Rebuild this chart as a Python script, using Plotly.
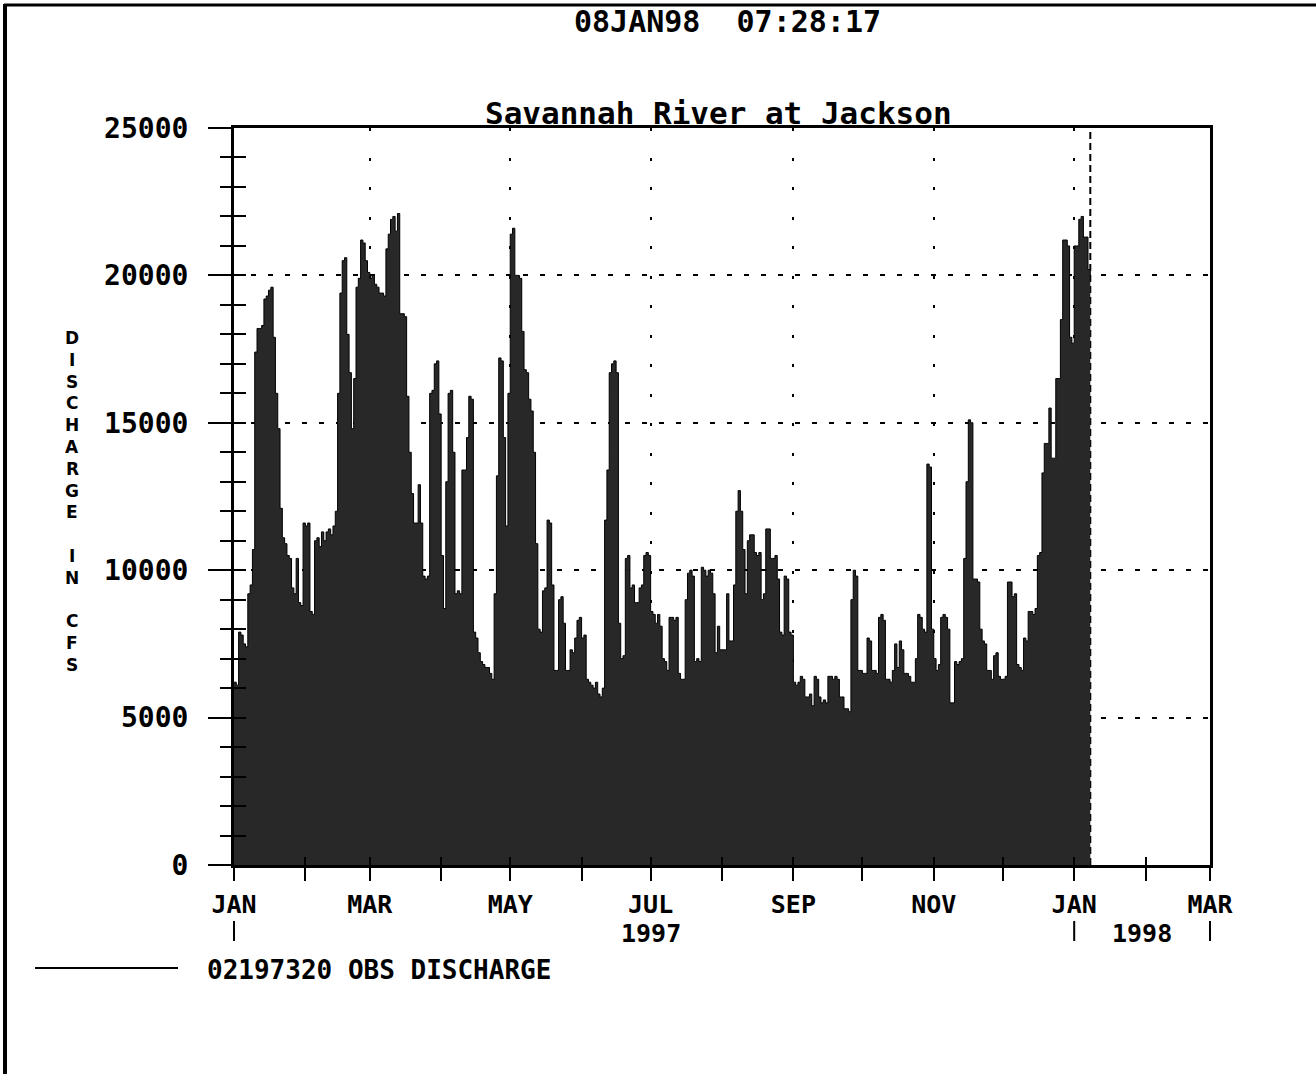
import pandas as pd
import plotly.graph_objects as go

# ---------------- data ----------------
start_date = "1997-01-01"
discharge_cfs = [
    6200, 6100, 7900, 7800, 7500, 7400, 9200, 9500, 10700, 17400,
    18200, 18200, 18300, 19200, 19300, 19500, 19600, 17900, 16000, 14800,
    12100, 11100, 10900, 10500, 10400, 9400, 9200, 10400, 8900, 8800,
    11600, 11500, 11600, 8600, 8500, 11000, 11100, 10800, 11300, 11000,
    11300, 11400, 11200, 11500, 12000, 16000, 19400, 20500, 20600, 18000,
    16700, 14800, 16500, 19600, 19900, 21200, 21100, 20500, 20100, 19900,
    20000, 19700, 19600, 19400, 19400, 19300, 20900, 21400, 21900, 22000,
    21500, 22100, 18700, 18700, 18600, 15900, 14000, 12600, 11600, 11600,
    12900, 11600, 9800, 9700, 9800, 16000, 16100, 17000, 17100, 15300,
    10500, 8700, 13000, 16000, 16100, 14000, 9200, 9300, 9200, 13400,
    13400, 14500, 15900, 15800, 7900, 7700, 7200, 6900, 6800, 6700,
    6700, 6500, 6300, 9200, 13200, 17200, 17100, 14500, 11500, 16000,
    21400, 21600, 20000, 20000, 19900, 18100, 16800, 16700, 15800, 15400,
    14000, 10900, 8000, 7900, 9300, 9400, 11700, 11600, 9500, 6600,
    6600, 9000, 9100, 8200, 6600, 6600, 7300, 7200, 7700, 8300,
    8400, 7700, 7800, 6300, 6200, 6100, 6000, 6200, 5800, 5700,
    6000, 11700, 13400, 16700, 17000, 17100, 16700, 8200, 7000, 7100,
    10400, 10500, 9400, 9500, 8900, 8900, 9400, 9500, 10500, 10600,
    10500, 8600, 8500, 8200, 8500, 8100, 7000, 6900, 6600, 8400,
    8400, 8300, 8400, 6500, 6300, 6300, 9000, 9900, 10000, 9800,
    6900, 7000, 6900, 10100, 10000, 9800, 10000, 9900, 9200, 7200,
    8100, 7300, 7300, 7300, 9200, 7600, 7600, 9500, 12000, 12700,
    12000, 10700, 9200, 11000, 11200, 11200, 10600, 10500, 10600, 9000,
    9200, 11400, 11400, 10400, 10400, 10500, 9700, 7900, 7800, 9800,
    9700, 7900, 7800, 6200, 6100, 6200, 6400, 6300, 5700, 5700,
    5800, 5400, 6400, 6300, 5700, 5500, 5600, 5500, 6400, 6400,
    6300, 6400, 6300, 5700, 5700, 5300, 5300, 5200, 9000, 10000,
    9800, 6600, 6600, 6500, 6500, 7700, 7600, 6600, 6600, 6500,
    8400, 8500, 8300, 6300, 6300, 6200, 6600, 7500, 6700, 7600,
    7300, 6500, 6500, 6400, 6200, 6200, 7000, 8500, 8400, 8000,
    7900, 13600, 13500, 8000, 7000, 6600, 6800, 8400, 8500, 8400,
    8000, 5500, 5500, 6900, 6800, 6900, 7000, 10400, 13000, 15100,
    15000, 9700, 9700, 9600, 8000, 7600, 7500, 6600, 6600, 6300,
    7100, 7200, 6400, 6300, 6300, 6400, 9600, 9600, 9100, 9200,
    6800, 6700, 6600, 7700, 7600, 8600, 8600, 8500, 8700, 10500,
    10600, 13300, 14300, 14300, 15500, 13800, 13800, 16500, 16500, 18500,
    21200, 21200, 21000, 17900, 17700, 21000, 21000, 21900, 22000, 21300,
    21300, 20200, 19800,
]
dates = pd.date_range(start_date, periods=len(discharge_cfs), freq="D")

x_range = ["1997-01-01", "1998-03-01"]
y_range = [0, 25000]
y_ticks = [0, 5000, 10000, 15000, 20000, 25000]
month_ticks = pd.date_range("1997-01-01", "1998-03-01", freq="MS")
label_ticks = month_ticks[::2]
label_text = ["JAN", "MAR", "MAY", "JUL", "SEP", "NOV", "JAN", "MAR"]
current_time = "1998-01-08"

title_text = "Savannah River at Jackson"
stamp_text = "08JAN98\u00a0\u00a007:28:17"
ylabel_text = "DISCHARGE IN CFS"
legend_text = "02197320 OBS DISCHARGE"

# ---------------- layout helpers (pixel -> paper) ----------------
W, H = 1316, 1074
L, R, T, B = 234, 1210, 128, 865


def px(x):
    return (x - L) / (R - L)


def py(y):
    return (B - y) / (B - T)


def date_frac(d):
    t0 = pd.Timestamp(x_range[0])
    t1 = pd.Timestamp(x_range[1])
    return (pd.Timestamp(d) - t0) / (t1 - t0)


FONT = "DejaVu Sans Mono"

fig = go.Figure()
fig.add_trace(go.Scatter(
    x=dates, y=discharge_cfs, mode="lines",
    line=dict(color="black", width=1, shape="hv"),
    fill="tozeroy", fillcolor="#282828",
    showlegend=False, hoverinfo="skip",
))
# invisible trace to carry the inner-tick overlay axes
fig.add_trace(go.Scatter(x=[None], y=[None], xaxis="x2", yaxis="y2",
                         showlegend=False, hoverinfo="skip"))

ytickfont = dict(family=FONT, size=28, color="black", weight="bold")
xtickfont = dict(family=FONT, size=25, color="black", weight="bold")

fig.update_layout(
    width=W, height=H,
    margin=dict(l=L, r=W - R, t=T, b=H - B, pad=0),
    paper_bgcolor="white", plot_bgcolor="white",
    showlegend=False,
    xaxis=dict(
        type="date", range=x_range,
        tickmode="array", tickvals=list(label_ticks), ticktext=label_text,
        ticks="outside", ticklen=13, tickwidth=2, tickcolor="black",
        tickfont=xtickfont, ticklabelstandoff=2,
        minor=dict(tickmode="array", tickvals=list(month_ticks), ticks="outside",
                   ticklen=13, tickwidth=2, tickcolor="black", showgrid=False),
        showgrid=True, gridcolor="black", gridwidth=2, griddash="3px,26.5px",
        showline=True, linecolor="black", linewidth=3, mirror=True,
        zeroline=False,
    ),
    yaxis=dict(
        range=y_range, tickmode="array", tickvals=y_ticks,
        ticktext=[str(v) for v in y_ticks],
        ticks="outside", ticklen=23, tickwidth=2, tickcolor="black",
        tickfont=ytickfont, ticklabelstandoff=14,
        minor=dict(dtick=1000, tick0=0, ticks="outside", ticklen=11,
                   tickwidth=2, tickcolor="black", showgrid=False),
        showgrid=True, gridcolor="black", gridwidth=2, griddash="5px,12px",
        showline=True, linecolor="black", linewidth=3, mirror=True,
        zeroline=False,
    ),
    xaxis2=dict(
        type="date", range=x_range, overlaying="x", anchor="y2",
        tickmode="array", tickvals=list(month_ticks), ticks="inside",
        ticklen=8, tickwidth=2, tickcolor="black", showticklabels=False,
        showgrid=False, showline=False, zeroline=False,
    ),
    yaxis2=dict(
        range=y_range, overlaying="y", anchor="x2", side="left",
        tickmode="linear", dtick=1000, tick0=0, ticks="inside",
        ticklen=12, tickwidth=2, tickcolor="black", showticklabels=False,
        showgrid=False, showline=False, zeroline=False,
    ),
)

shapes = [
    # page frame
    dict(type="line", xref="paper", yref="paper", x0=px(5), x1=px(5),
         y0=py(4), y1=py(1074), line=dict(color="black", width=4)),
    dict(type="line", xref="paper", yref="paper", x0=px(4), x1=px(1316),
         y0=py(5), y1=py(5), line=dict(color="black", width=3)),
    # current-time marker
    dict(type="line", xref="x", yref="paper", x0=current_time, x1=current_time,
         y0=0, y1=1, layer="below", line=dict(color="black", width=2, dash="7px,4px")),
    # legend sample line
    dict(type="line", xref="paper", yref="paper", x0=px(35), x1=px(178),
         y0=py(968), y1=py(968), line=dict(color="black", width=2)),
]
# year separators below the month labels
for d in ["1997-01-01", "1998-01-01", "1998-03-01"]:
    shapes.append(dict(type="line", xref="paper", yref="paper",
                       x0=date_frac(d), x1=date_frac(d), y0=py(921), y1=py(941),
                       line=dict(color="black", width=2)))
fig.update_layout(shapes=shapes)


def ann(text, x, y, size, xanchor="center", family=FONT):
    return dict(text=text, x=x, y=y, xref="paper", yref="paper",
                xanchor=xanchor, yanchor="middle", showarrow=False,
                font=dict(family=family, size=size, color="black", weight="bold"))


annotations = [
    ann(stamp_text, px(727), py(22), 30),
    ann(title_text, px(718), py(113), 31),
    ann("1997", date_frac("1997-07-01"), py(934), 25),
    ann("1998", (date_frac("1998-01-01") + date_frac("1998-03-01")) / 2, py(934), 25),
    ann(legend_text, px(205), py(970), 26, xanchor="left"),
]
# stacked (upright) letters of the y-axis title
for i, ch in enumerate(ylabel_text):
    if ch != " ":
        annotations.append(ann(ch, px(72), py(338 + i * 21.8), 17, family="DejaVu Sans"))
fig.update_layout(annotations=annotations)

fig.write_html("out.html", config={"displayModeBar": False},
               post_script="document.body.style.margin='0';document.body.style.overflow='hidden';")
